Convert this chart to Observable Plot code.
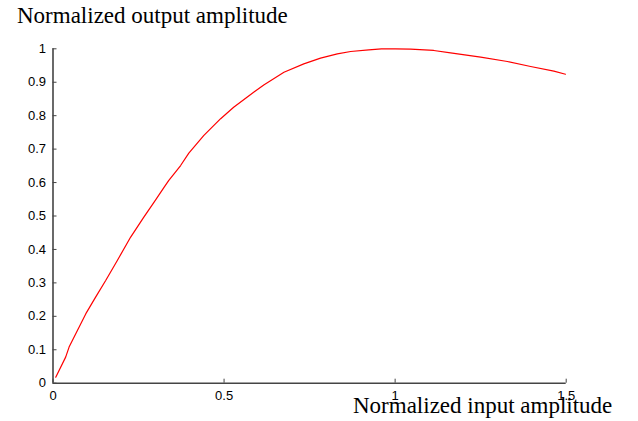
<!DOCTYPE html>
<html>
<head>
<meta charset="utf-8">
<script src="https://cdn.jsdelivr.net/npm/d3@7"></script>
<script src="https://cdn.jsdelivr.net/npm/@observablehq/plot@0.6"></script>
<style>
  html, body { margin: 0; padding: 0; background: #fff; }
  #wrap { position: relative; width: 638px; height: 421px; overflow: hidden; }
  .lbl { position: absolute; font-family: "Liberation Serif", "Times New Roman", serif; font-size: 23px; line-height: 23px; color: #000; white-space: nowrap; }
  #chart { position: absolute; left: 0; top: 0; }
</style>
</head>
<body>
<div id="wrap">
  <div id="chart"></div>
  <div class="lbl" id="title" style="left:17px; top:4px;">Normalized output amplitude</div>
  <div class="lbl" id="xlabel" style="left:353px; top:394px;">Normalized input amplitude</div>
</div>
<script>
const inputAmp  = [0.008, 0.037, 0.047, 0.096, 0.125, 0.154, 0.168, 0.188, 0.227, 0.265, 0.300, 0.324, 0.338, 0.373, 0.397, 0.441, 0.490, 0.528, 0.568, 0.616, 0.675, 0.733, 0.782, 0.831, 0.870, 0.923, 0.960, 1.000, 1.045, 1.113, 1.162, 1.250, 1.328, 1.396, 1.464, 1.498];
const outputAmp = [0.018, 0.078, 0.108, 0.208, 0.258, 0.307, 0.332, 0.367, 0.437, 0.496, 0.548, 0.585, 0.606, 0.651, 0.688, 0.741, 0.791, 0.825, 0.856, 0.892, 0.930, 0.955, 0.972, 0.985, 0.992, 0.997, 1.000, 1.000, 0.999, 0.995, 0.988, 0.975, 0.962, 0.947, 0.933, 0.924];
const xTicks = [0, 0.5, 1, 1.5];
const xTickLabels = ["0", "0.5", "1", "1.5"];
const yTicks = [0, 0.1, 0.2, 0.3, 0.4, 0.5, 0.6, 0.7, 0.8, 0.9, 1];
const yTickLabels = ["0", "0.1", "0.2", "0.3", "0.4", "0.5", "0.6", "0.7", "0.8", "0.9", "1"];

const data = inputAmp.map((x, i) => ({x, y: outputAmp[i]}));
const axisColor = "#444";

const chart = Plot.plot({
  width: 638,
  height: 421,
  marginLeft: 52.5,
  marginRight: 72.3,
  marginTop: 48.3,
  marginBottom: 38.3,
  style: "background: #fff; font-family: 'Liberation Sans', Arial, sans-serif; font-size: 13px;",
  x: {domain: [0, 1.5]},
  y: {domain: [0, 1]},
  marks: [
    Plot.axisX(xTicks, {tickSize: -4, tickPadding: 12, fontSize: 13, tickFormat: (d) => xTickLabels[xTicks.indexOf(d)], stroke: axisColor, label: null}),
    Plot.axisY(yTicks, {tickSize: -4, tickPadding: 11, fontSize: 13, tickFormat: (d) => yTickLabels[yTicks.indexOf(d)], stroke: axisColor, label: null}),
    Plot.ruleY([0], {stroke: axisColor, strokeWidth: 1.6}),
    Plot.ruleX([0], {stroke: axisColor, strokeWidth: 1.6}),
    Plot.line(data, {x: "x", y: "y", stroke: "#ff0000", strokeWidth: 1.2})
  ]
});
document.getElementById("chart").appendChild(chart);
</script>
</body>
</html>
